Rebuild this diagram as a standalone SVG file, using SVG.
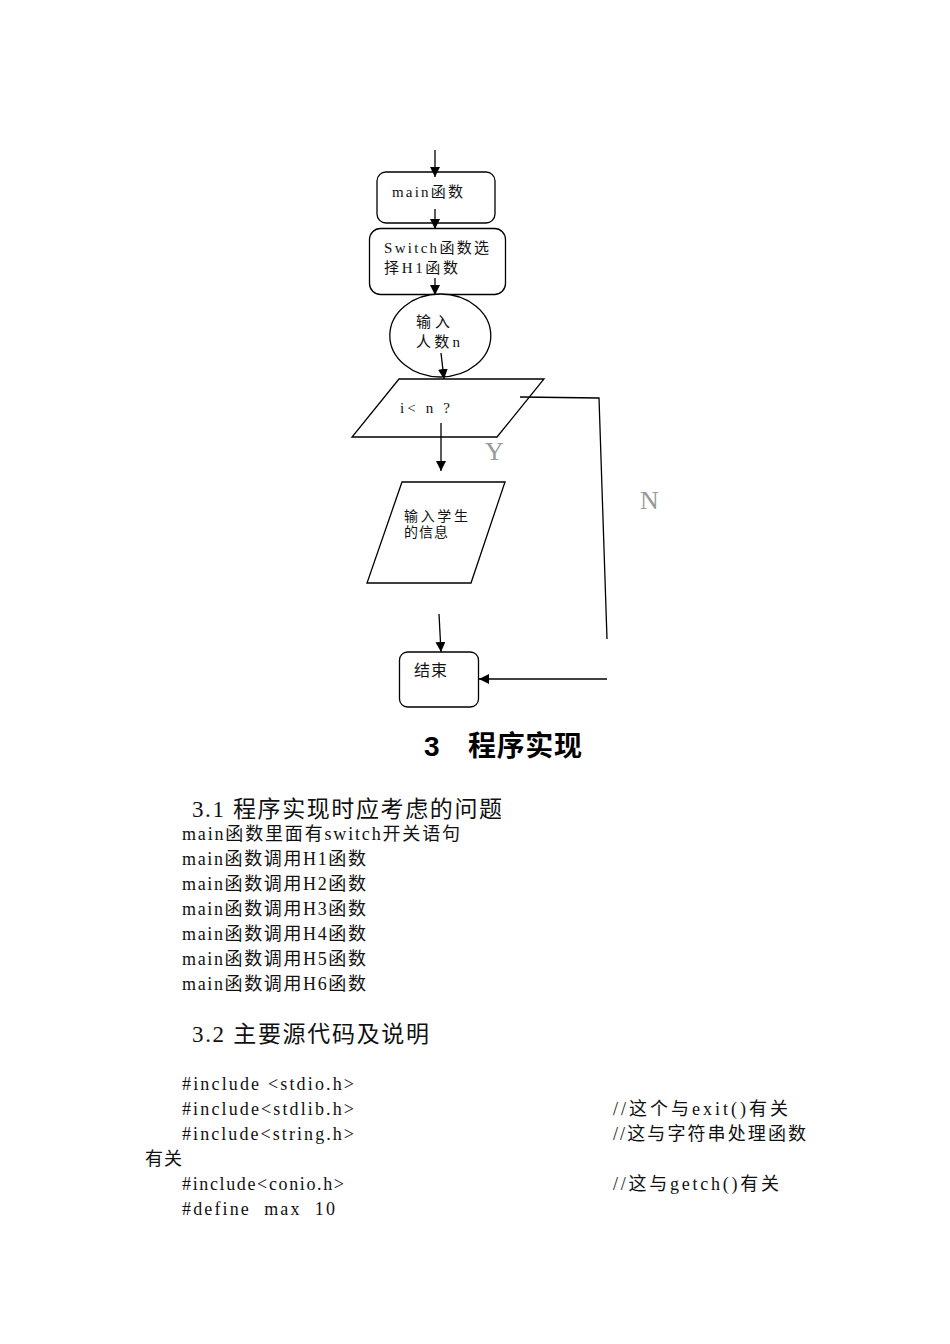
<svg xmlns="http://www.w3.org/2000/svg" width="950" height="1344" viewBox="0 0 950 1344">
<style>
.shape{fill:#fff;stroke:#000;stroke-width:1.3}
.ln{fill:none;stroke:#000;stroke-width:1.3}
.t{font-family:"Liberation Serif","Noto Sans CJK SC",serif;fill:#111}
.fc{font-size:15px}
.yn{font-family:"Liberation Serif",serif;font-size:26px;fill:#999}
.h1{font-family:"Liberation Sans","Noto Sans CJK SC",sans-serif;font-size:28px;font-weight:bold;fill:#000}
.h2{font-size:23px}
.b{font-size:18px}
</style>
<defs>
<marker id="ah" viewBox="0 0 10 10" refX="10" refY="5" markerWidth="10" markerHeight="10" markerUnits="userSpaceOnUse" orient="auto">
<path d="M0,0 L10,5 L0,10 z" fill="#000"/>
</marker>
</defs>
<g id="node-main">
<rect class="shape" x="377" y="172" width="118" height="51" rx="9"/>
<text class="t fc" x="392" y="197" textLength="71">main函数</text>
</g>
<g id="node-switch">
<rect class="shape" x="369.5" y="228.5" width="136" height="66" rx="11"/>
<text class="t fc" x="384" y="253" textLength="105">Switch函数选</text>
<text class="t fc" x="384" y="273" textLength="74">择H1函数</text>
</g>
<g id="node-input-n">
<ellipse class="shape" cx="440.3" cy="335.5" rx="50.5" ry="41.5"/>
<text class="t fc" x="416" y="327" textLength="34">输入</text>
<text class="t fc" x="416" y="347" textLength="44">人数n</text>
</g>
<g id="node-cond">
<polygon class="shape" points="399,379 544,379 497,437 352,437"/>
<text class="t fc" x="400" y="413" textLength="50">i&lt; n ?</text>
</g>
<g id="node-student">
<polygon class="shape" points="402,482 505,482 471,583 367,583"/>
<text class="t" font-size="14" x="404" y="521" textLength="64">输入学生</text>
<text class="t" font-size="14" x="404" y="537" textLength="44">的信息</text>
</g>
<g id="node-end">
<rect class="shape" x="399.5" y="652" width="79" height="55" rx="8"/>
<text class="t" font-size="16" x="414" y="676" textLength="33">结束</text>
</g>
<g id="connectors">
<line class="ln" x1="435" y1="150" x2="435" y2="177" marker-end="url(#ah)"/>
<line class="ln" x1="435" y1="209" x2="435" y2="229" marker-end="url(#ah)"/>
<line class="ln" x1="435" y1="278" x2="435" y2="295" marker-end="url(#ah)"/>
<line class="ln" x1="441" y1="353" x2="444" y2="379" marker-end="url(#ah)"/>
<line class="ln" x1="441" y1="423" x2="441" y2="471" marker-end="url(#ah)"/>
<line class="ln" x1="439" y1="614" x2="441" y2="652" marker-end="url(#ah)"/>
<polyline class="ln" points="520,397 599,398 607,639"/>
<line class="ln" x1="607" y1="679" x2="479" y2="679" marker-end="url(#ah)"/>
</g>
<text class="yn" x="485" y="460">Y</text>
<text class="yn" x="640" y="509">N</text>
<text class="h1" x="424" y="756">3</text>
<text class="h1" x="468" y="756" textLength="114">程序实现</text>
<text class="t h2" x="192" y="817" textLength="310">3.1 程序实现时应考虑的问题</text>
<text class="t b" x="182" y="840" textLength="278">main函数里面有switch开关语句</text>
<text class="t b" x="182" y="865" textLength="184">main函数调用H1函数</text>
<text class="t b" x="182" y="890" textLength="184">main函数调用H2函数</text>
<text class="t b" x="182" y="915" textLength="184">main函数调用H3函数</text>
<text class="t b" x="182" y="940" textLength="184">main函数调用H4函数</text>
<text class="t b" x="182" y="965" textLength="184">main函数调用H5函数</text>
<text class="t b" x="182" y="990" textLength="184">main函数调用H6函数</text>
<text class="t h2" x="192" y="1042" textLength="237">3.2 主要源代码及说明</text>
<text class="t b" x="182" y="1090" textLength="172" xml:space="preserve">#include &lt;stdio.h&gt;</text>
<text class="t b" x="182" y="1115" textLength="172">#include&lt;stdlib.h&gt;</text>
<text class="t b" x="613" y="1115" textLength="175">//这个与exit()有关</text>
<text class="t b" x="182" y="1140" textLength="172">#include&lt;string.h&gt;</text>
<text class="t b" x="613" y="1140" textLength="193">//这与字符串处理函数</text>
<text class="t b" x="145" y="1165" textLength="37">有关</text>
<text class="t b" x="182" y="1190" textLength="162">#include&lt;conio.h&gt;</text>
<text class="t b" x="613" y="1190" textLength="166">//这与getch()有关</text>
<text class="t b" x="182" y="1215" textLength="153" xml:space="preserve">#define  max  10</text>
</svg>
